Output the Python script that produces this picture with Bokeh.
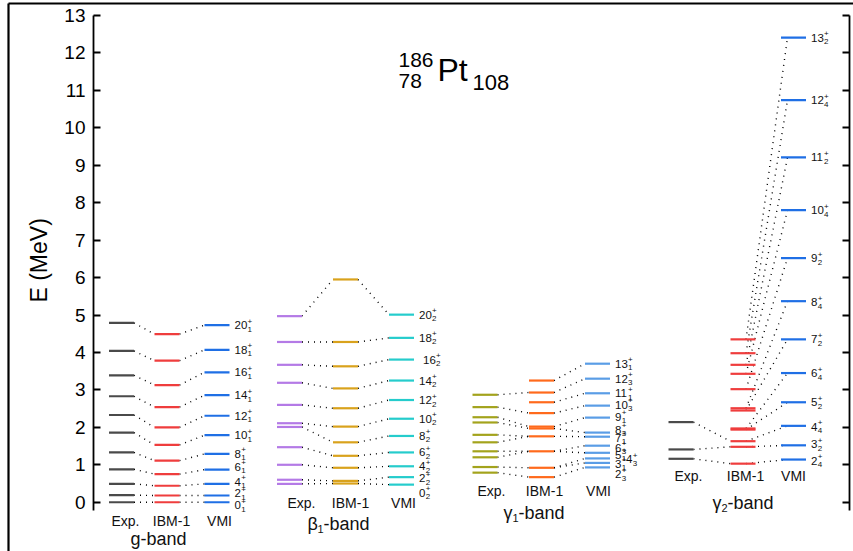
import math
from bokeh.plotting import figure
from bokeh.models import Range1d, LinearAxis, FixedTicker, Label, ColumnDataSource
from bokeh.core.properties import value
from bokeh.embed import file_html
from bokeh.resources import INLINE

FONT = "Liberation Sans"

# ---------------- data: level energies in MeV ----------------
# g-band, VMI labels J_1^+
g_spin = ["0", "2", "4", "6", "8", "10", "12", "14", "16", "18", "20"]
g_sub = ["1", "1", "1", "1", "1", "1", "1", "1", "1", "1", "1"]
g_exp = [0.00, 0.19, 0.49, 0.88, 1.33, 1.86, 2.33, 2.83, 3.39, 4.04, 4.79]
g_ibm = [0.00, 0.18, 0.44, 0.75, 1.11, 1.53, 2.00, 2.54, 3.13, 3.78, 4.49]
g_vmi = [0.00, 0.18, 0.49, 0.87, 1.29, 1.79, 2.31, 2.86, 3.47, 4.07, 4.73]
g_exp_ibm = [[0, 0], [1, 1], [2, 2], [3, 3], [4, 4], [5, 5], [6, 6], [7, 7], [8, 8], [9, 9], [10, 10]]
g_ibm_vmi = [[0, 0], [1, 1], [2, 2], [3, 3], [4, 4], [5, 5], [6, 6], [7, 7], [8, 8], [9, 9], [10, 10]]

# beta1-band, VMI labels J_2^+
b_spin = ["0", "2", "4", "6", "8", "10", "12", "14", "16", "18", "20"]
b_sub = ["2", "2", "2", "2", "2", "2", "2", "2", "2", "2", "2"]
b_exp = [0.49, 0.60, 1.00, 1.47, 2.01, 2.11, 2.60, 3.19, 3.67, 4.28, 4.97]
b_ibm = [0.50, 0.57, 0.92, 1.24, 1.60, 2.02, 2.51, 3.04, 3.63, 4.28, 5.95]
b_vmi = [0.47, 0.67, 0.96, 1.33, 1.77, 2.23, 2.73, 3.25, 3.81, 4.39, 5.01]
b_exp_ibm = [[0, 0], [1, 1], [2, 2], [3, 3], [4, 4], [5, 5], [6, 6], [7, 7], [8, 8], [9, 9], [10, 10]]
b_ibm_vmi = [[0, 0], [1, 1], [2, 2], [3, 3], [4, 4], [5, 5], [6, 6], [7, 7], [8, 8], [9, 9], [10, 10]]

# gamma1-band
c_spin = ["2", "3", "4", "5", "6", "7", "8", "9", "10", "11", "12", "13"]
c_sub = ["3", "1", "3", "1", "3", "1", "3", "1", "3", "1", "3", "1"]
c_exp = [0.79, 0.94, 1.20, 1.36, 1.60, 1.80, 2.13, 2.27, 2.54, 2.87]
c_ibm = [0.67, 0.92, 1.36, 1.76, 1.97, 2.02, 2.38, 2.67, 2.93, 3.25]
c_vmi = [0.93, 1.05, 1.17, 1.32, 1.51, 1.75, 1.86, 2.26, 2.58, 2.91, 3.30, 3.70]
c_exp_ibm = [[0, 0], [1, 1], [2, 2], [3, 2], [4, 3], [5, 3], [6, 4], [7, 5], [8, 6], [9, 8]]
c_ibm_vmi = [[0, 0], [1, 1], [1, 2], [2, 3], [2, 4], [3, 5], [4, 6], [5, 7], [6, 8], [7, 9], [8, 10], [9, 11]]

# gamma2-band
d_spin = ["2", "3", "4", "5", "6", "7", "8", "9", "10", "11", "12", "13"]
d_sub = ["4", "2", "4", "2", "4", "2", "4", "2", "4", "2", "4", "2"]
d_exp = [1.16, 1.41, 2.14]
d_ibm = [1.03, 1.48, 1.63, 1.94, 1.97, 2.45, 2.51, 3.02, 3.43, 3.67, 3.98, 4.35]
d_vmi = [1.14, 1.52, 2.04, 2.67, 3.45, 4.35, 5.37, 6.52, 7.80, 9.21, 10.74, 12.41]
d_exp_ibm = [[0, 0], [1, 1], [2, 2]]
d_ibm_vmi = [[0, 0], [1, 1], [2, 2], [3, 3], [4, 4], [5, 5], [6, 6], [7, 7], [8, 8], [9, 9], [10, 10], [11, 11]]

y_ticks = [0, 1, 2, 3, 4, 5, 6, 7, 8, 9, 10, 11, 12, 13]
col_names = ["Exp.", "IBM-1", "VMI"]

# ---------------- layout (x in pixel-like units) ----------------
HW = 12.5
bands = [
    dict(exp=g_exp, ibm=g_ibm, vmi=g_vmi, spin=g_spin, sub=g_sub, l1=g_exp_ibm, l2=g_ibm_vmi,
         cols=(121, 166.5, 216.5), colors=("#4a4a4a", "#ef3d3d", "#1f6fe5"),
         lab_dy=[3, -2, -2, -3, 0, 0, 0, 0, 0, 0, 0], lab_dx=[0] * 11,
         row_y=-0.49, row_x=(125, 171, 219), name_y=-0.97,
         name=[("g-band", 158, 0, 0, 18, "center")], c2=(HW, -HW)),
    dict(exp=b_exp, ibm=b_ibm, vmi=b_vmi, spin=b_spin, sub=b_sub, l1=b_exp_ibm, l2=b_ibm_vmi,
         cols=(289, 345, 401), colors=("#b47ae6", "#d9a21c", "#25cccc"),
         lab_dy=[8, 1, 0, 0, 0, 0, 0, 0, 0, 0, 0], lab_dx=[0, 0, 0, 0, 0, 0, 0, 0, 4, 0, 0],
         row_y=-0.01, row_x=(301, 350, 403), name_y=-0.57,
         name=[("\u03b2", 307, 0, 0, 18, "left"), ("1", 307, 10, 5, 11, "left"),
               ("-band", 307, 16, 0, 18, "left")], c2=(HW, -HW)),
    dict(exp=c_exp, ibm=c_ibm, vmi=c_vmi, spin=c_spin, sub=c_sub, l1=c_exp_ibm, l2=c_ibm_vmi,
         cols=(484.5, 541, 597), colors=("#a3a31c", "#ff6a1c", "#5a9de6"),
         lab_dy=[7, 1, 1, 2, 2, 1, -3, -1, -1, 0, 0, 0], lab_dx=[0, 0, 11, 0, 0, 0, 0, 0, 0, 0, 0, 0],
         row_y=0.31, row_x=(491, 544, 598), name_y=-0.30,
         name=[("\u03b3", 503, 0, 0, 18, "left"), ("1", 503, 9, 5, 11, "left"),
               ("-band", 503, 15, 0, 18, "left")], c2=(HW, -HW)),
    dict(exp=d_exp, ibm=d_ibm, vmi=d_vmi, spin=d_spin, sub=d_sub, l1=d_exp_ibm, l2=d_ibm_vmi,
         cols=(680.5, 742.5, 793), colors=("#4a4a4a", "#ef3d3d", "#1f6fe5"),
         lab_dy=[1, -1, 1, 0, 0, 0, 1, 0, 0, 0, 0, 0], lab_dx=[0] * 12,
         row_y=0.71, row_x=(688, 745, 793), name_y=-0.01,
         name=[("\u03b3", 712, 0, 0, 18, "left"), ("2", 712, 9, 5, 11, "left"),
               ("-band", 712, 15, 0, 18, "left")], c2=(3, -6)),
]

# the frame covers the whole canvas; axes are placed with fixed_location
p = figure(width=853, height=551, x_range=Range1d(0, 853), y_range=Range1d(-1.316, 13.4006),
           x_axis_location=None, y_axis_location=None, output_backend="svg",
           toolbar_location=None, min_border_left=0, min_border_right=0,
           min_border_top=0, min_border_bottom=0)
p.outline_line_color = None
p.grid.visible = False
p.background_fill_color = "white"

# levels
lev = dict(x0=[], x1=[], y=[], c=[])
con = dict(x0=[], y0=[], x1=[], y1=[])
lab = dict(x=[], y=[], t=[], dx=[], dy=[], size=[])
for b in bands:
    for k, key in enumerate(("exp", "ibm", "vmi")):
        for e in b[key]:
            lev["x0"].append(b["cols"][k] - HW)
            lev["x1"].append(b["cols"][k] + HW)
            lev["y"].append(e)
            lev["c"].append(b["colors"][k])
    for i, j in b["l1"]:
        con["x0"].append(b["cols"][0] + HW); con["y0"].append(b["exp"][i])
        con["x1"].append(b["cols"][1] - HW); con["y1"].append(b["ibm"][j])
    for i, j in b["l2"]:
        con["x0"].append(b["cols"][1] + b["c2"][0]); con["y0"].append(b["ibm"][i])
        con["x1"].append(b["cols"][2] + b["c2"][1]); con["y1"].append(b["vmi"][j])
    for n, e in enumerate(b["vmi"]):
        x = b["cols"][2] + HW + 5 + b["lab_dx"][n]
        s = b["spin"][n]
        w = 6.3 * len(s) + 0.5
        lab["x"] += [x, x, x]
        lab["y"] += [e, e, e]
        lab["t"] += [s, "+", b["sub"][n]]
        lab["dx"] += [0, w, w]
        lab["dy"] += [b["lab_dy"][n], b["lab_dy"][n] - 4, b["lab_dy"][n] + 4]
        lab["size"] += ["11.5px", "8px", "8px"]

p.segment(x0="x0", y0="y0", x1="x1", y1="y1", source=ColumnDataSource(con),
          line_color="black", line_width=1.4, line_dash="1 5")
p.segment(x0="x0", y0="y", x1="x1", y1="y", source=ColumnDataSource(lev),
          line_color="c", line_width=2.2)
p.text(x="x", y="y", text="t", x_offset="dx", y_offset="dy", text_font_size="size",
       source=ColumnDataSource(lab), text_font=value(FONT), text_baseline="middle",
       text_align="left", text_color="#111111")

# column and band names
rows = dict(x=[], y=[], t=[])
names = dict(x=[], y=[], t=[], dx=[], dy=[], size=[], align=[])
for b in bands:
    for k in range(3):
        rows["x"].append(b["row_x"][k]); rows["y"].append(b["row_y"]); rows["t"].append(col_names[k])
    for (t, x, dx, dy, sz, al) in b["name"]:
        names["x"].append(x); names["y"].append(b["name_y"]); names["t"].append(t)
        names["dx"].append(dx); names["dy"].append(dy); names["size"].append("%dpx" % sz)
        names["align"].append(al)
p.text(x="x", y="y", text="t", source=ColumnDataSource(rows), text_font=value(FONT),
       text_font_size="14px", text_align="center", text_baseline="middle", text_color="#111111")
p.text(x="x", y="y", text="t", x_offset="dx", y_offset="dy", text_font_size="size",
       text_align="align", source=ColumnDataSource(names), text_font=value(FONT),
       text_baseline="middle", text_color="#111111")

# title 186/78 Pt 108
title = dict(x=[398, 398, 437, 472], y=[11.54] * 4, t=["186", "78", "Pt", "108"],
             dy=[-10, 11, 0, 12], size=["21px", "21px", "32px", "22px"])
p.text(x="x", y="y", text="t", y_offset="dy", text_font_size="size", source=ColumnDataSource(title),
       text_font=value(FONT), text_align="left", text_baseline="middle", text_color="black")

# axes
def make_axis(show_labels, loc, ticks=True, bounds=(-0.22, 13), width=1.8):
    ax = LinearAxis(ticker=FixedTicker(ticks=y_ticks if ticks else []), bounds=bounds,
                    fixed_location=loc, major_tick_in=7, major_tick_out=0,
                    minor_tick_line_color=None, axis_line_width=width,
                    major_tick_line_width=1.8, axis_line_color="black",
                    major_tick_line_color="black" if ticks else None)
    if show_labels:
        ax.major_label_text_font = FONT
        ax.major_label_text_font_size = "19px"
        ax.major_label_text_color = "black"
        ax.major_label_standoff = 8
    else:
        ax.major_label_text_font_size = "1px"
        ax.major_label_text_alpha = 0
        ax.major_label_standoff = 0
    return ax

p.add_layout(make_axis(True, 93), "left")
p.add_layout(make_axis(False, 849), "right")
# outer frame: left and top lines
p.add_layout(make_axis(False, 8, ticks=False, bounds=(-1.316, 13.32), width=2.2), "left")
top = make_axis(False, 13.32, ticks=False, bounds=(8, 853), width=2.2)
p.add_layout(top, "above")

p.add_layout(Label(x=38, y=6.46, text="E (MeV)", angle=math.pi / 2, text_align="center",
                   text_baseline="middle", text_font=FONT, text_font_size="23px",
                   text_color="black"))

open("out.html", "w").write(file_html(p, INLINE))
